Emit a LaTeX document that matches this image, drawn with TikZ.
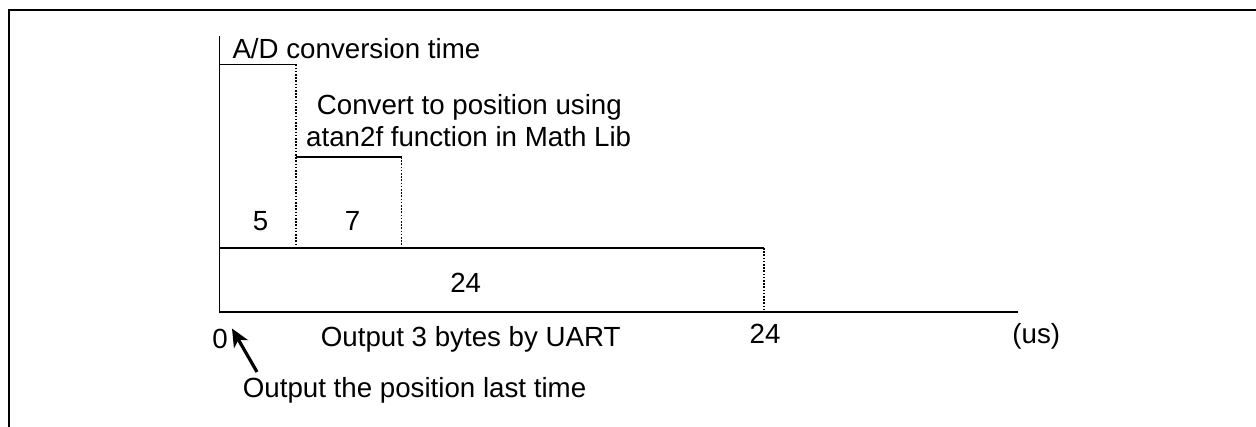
\documentclass[tikz,border=0pt]{standalone}
\usepackage{fontspec}
\setmainfont{Liberation Sans}
\usetikzlibrary{arrows.meta}
\begin{document}
\begin{tikzpicture}[x=1pt,y=-1pt,
  lbl/.style={font=\fontsize{27.7}{33}\selectfont, inner sep=0pt, anchor=base west},
  lblc/.style={font=\fontsize{27.7}{33}\selectfont, inner sep=0pt, anchor=base},
  frameline/.style={line width=2.5pt},
  axisline/.style={line width=1.8pt},
  boxline/.style={line width=1.6pt},
  guide/.style={line width=1.2pt, dash pattern=on 1.6pt off 1.6pt},
  pointer/.style={line width=3.2pt, -{Stealth[length=18pt,width=16pt,inset=5pt]}}]
\useasboundingbox (0,0) rectangle (1256,427);
% frame
\draw[frameline] (9,427) -- (9,10) -- (1256,10);
% axes
\coordinate (ytop) at (219.5,36);
\coordinate (orig) at (219.5,312);
\coordinate (xend) at (1018,312);
\draw[axisline] (ytop) -- (orig) -- (xend);
% A/D bar
\coordinate (ad0) at (219.5,64.5);
\coordinate (ad1) at (296,64.5);
\coordinate (ad2) at (296,248);
\draw[boxline] (ad0) -- (ad1);
\draw[guide] (ad1) -- (ad2);
% convert bar
\coordinate (cv0) at (296,157);
\coordinate (cv1) at (401.5,157);
\coordinate (cv2) at (401.5,248);
\draw[boxline] (cv0) -- (cv1);
\draw[guide] (cv1) -- (cv2);
% UART bar
\coordinate (ua0) at (219.5,248);
\coordinate (ua1) at (764,248);
\coordinate (ua2) at (764,312);
\draw[boxline] (ua0) -- (ua1);
\draw[guide] (ua1) -- (ua2);
% labels
\node[lbl] (adt) at (232.3,59) {A/D conversion time};
\node[lbl] (cvt1) at (316.7,114.5) {Convert to position using};
\node[lbl] (cvt2) at (306,147) {atan2f function in Math Lib};
\node[lblc] (n5) at (260.5,231) {5};
\node[lblc] (n7) at (352.5,231) {7};
\node[lblc] (n24a) at (465.7,292.7) {24};
\node[lblc] (n0) at (220,349) {0};
\node[lbl] (uart) at (320.7,347) {Output 3 bytes by UART};
\node[lblc] (n24b) at (765,343.3) {24};
\node[lblc] (us) at (1036.3,343.3) {(us)};
\node[lbl] (last) at (242.7,398) {Output the position last time};
% pointer
\coordinate (ptail) at (257,372);
\coordinate (ptip) at (232,328.5);
\draw[pointer] (ptail) -- (ptip);
\end{tikzpicture}
\end{document}
